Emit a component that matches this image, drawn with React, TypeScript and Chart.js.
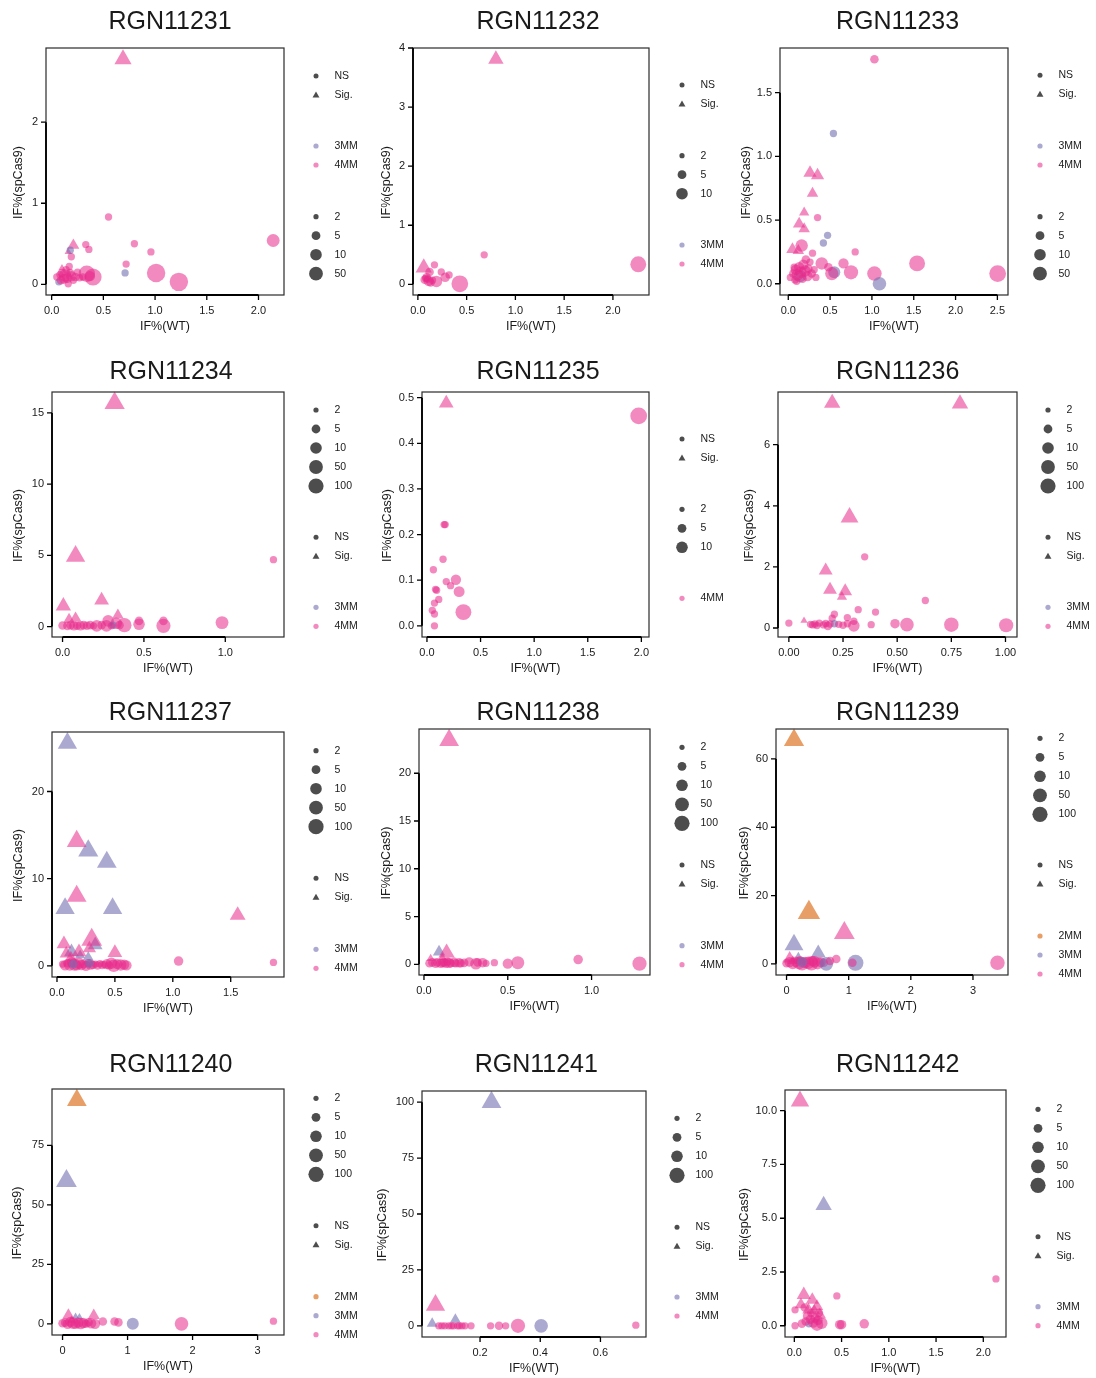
import React, { useEffect, useRef } from "react";
import { Chart, registerables } from "chart.js";

Chart.register(...registerables);

// Each site: [IF%(WT), IF%(spCas9), read count n, mismatches, significant (1) / NS (0)]
type Site = [number, number, number, number, number];

const RGN11231: Site[] = [
  [0.69, 2.777, 30, 4, 1], [0.21, 0.48, 9, 4, 1], [0.1, 0.2, 3, 4, 1], [0.16, 0.4, 3, 4, 1],
  [0.18, 0.42, 3, 3, 0], [0.71, 0.14, 3, 3, 0], [0.07, 0.03, 3, 3, 0],
  [0.55, 0.83, 3, 4, 0], [0.33, 0.49, 3, 4, 0], [0.36, 0.43, 3, 4, 0], [0.19, 0.34, 3, 4, 0],
  [0.8, 0.5, 3, 4, 0], [0.96, 0.4, 3, 4, 0], [0.72, 0.25, 3, 4, 0], [2.142, 0.54, 11, 4, 0],
  [1.01, 0.14, 40, 4, 0], [1.23, 0.03, 40, 4, 0], [0.34, 0.13, 25, 4, 0], [0.4, 0.09, 30, 4, 0],
  [0.37, 0.1, 6, 4, 0], [0.3, 0.09, 3, 4, 0], [0.05, 0.09, 3, 4, 0], [0.08, 0.12, 3, 4, 0],
  [0.1, 0.14, 4, 4, 0], [0.12, 0.07, 6, 4, 0], [0.13, 0.11, 10, 4, 0], [0.15, 0.08, 6, 4, 0],
  [0.16, 0.0065, 3, 4, 0], [0.17, 0.22, 3, 4, 0], [0.18, 0.14, 4, 4, 0], [0.19, 0.1, 6, 4, 0],
  [0.21, 0.05, 3, 4, 0], [0.23, 0.09, 4, 4, 0], [0.25, 0.15, 3, 4, 0], [0.27, 0.08, 3, 4, 0],
  [0.14, 0.18, 3, 4, 0], [0.09, 0.05, 4, 4, 0],
];

const RGN11232: Site[] = [
  [0.8, 3.81, 20, 4, 1], [0.06, 0.28, 25, 4, 1],
  [0.17, 0.33, 3, 4, 0], [0.12, 0.21, 4, 4, 0], [0.24, 0.21, 3, 4, 0], [0.32, 0.16, 3, 4, 0],
  [0.28, 0.12, 5, 4, 0], [0.19, 0.05, 8, 4, 0], [0.07, 0.08, 4, 4, 0], [0.09, 0.12, 4, 4, 0],
  [0.11, 0.06, 6, 4, 0], [0.13, 0.03, 4, 4, 0], [0.08, 0.1, 3, 4, 0], [0.1, 0.09, 3, 4, 0],
  [0.15, 0.07, 3, 4, 0], [0.43, 0.01, 27, 4, 0], [0.68, 0.5, 3, 4, 0], [2.26, 0.34, 22, 4, 0],
];

const RGN11233: Site[] = [
  [1.03, 1.763, 4, 4, 0], [0.54, 1.18, 3, 3, 0],
  [0.26, 0.87, 12, 4, 1], [0.35, 0.85, 12, 4, 1], [0.29, 0.71, 8, 4, 1], [0.19, 0.56, 6, 4, 1],
  [0.13, 0.47, 10, 4, 1], [0.19, 0.43, 8, 4, 1], [0.05, 0.27, 10, 4, 1], [0.12, 0.26, 8, 4, 1],
  [0.35, 0.52, 3, 4, 0], [0.47, 0.38, 3, 3, 0], [0.42, 0.32, 3, 3, 0], [0.16, 0.3, 10, 4, 0],
  [0.8, 0.25, 3, 4, 0], [0.29, 0.24, 3, 4, 0], [1.54, 0.16, 22, 4, 0], [2.503, 0.08, 27, 4, 0],
  [1.03, 0.08, 16, 4, 0], [1.09, 0.0, 13, 3, 0], [0.55, 0.09, 9, 3, 0], [0.75, 0.09, 15, 4, 0],
  [0.52, 0.08, 12, 4, 0], [0.66, 0.16, 6, 4, 0], [0.4, 0.16, 10, 4, 0], [0.48, 0.13, 4, 4, 0],
  [0.14, 0.06, 10, 3, 0], [0.025, 0.05, 3, 4, 0], [0.06, 0.08, 4, 4, 0], [0.08, 0.03, 3, 4, 0],
  [0.09, 0.11, 6, 4, 0], [0.11, 0.07, 8, 4, 0], [0.13, 0.13, 6, 4, 0], [0.15, 0.09, 8, 4, 0],
  [0.17, 0.04, 4, 4, 0], [0.18, 0.15, 6, 4, 0], [0.2, 0.1, 8, 4, 0], [0.21, 0.19, 4, 4, 0],
  [0.23, 0.06, 6, 4, 0], [0.24, 0.12, 4, 4, 0], [0.26, 0.17, 3, 4, 0], [0.28, 0.08, 4, 4, 0],
  [0.31, 0.11, 3, 4, 0], [0.33, 0.05, 3, 4, 0], [0.1, 0.02, 3, 4, 0], [0.07, 0.13, 3, 4, 0],
];

const RGN11234: Site[] = [
  [0.32, 15.69, 62, 4, 1], [0.08, 4.94, 50, 4, 1], [0.24, 1.84, 17, 4, 1], [0.005, 1.45, 20, 4, 1],
  [0.04, 0.5, 8, 4, 1], [0.08, 0.6, 8, 4, 1], [0.34, 0.8, 8, 4, 1],
  [1.296, 4.7, 3, 4, 0], [0.98, 0.28, 11, 4, 0], [0.62, 0.4, 4, 4, 0], [0.62, 0.05, 15, 4, 0],
  [0.47, 0.4, 4, 4, 0], [0.47, 0.16, 8, 4, 0], [0.38, 0.1, 15, 4, 0], [0.33, 0.23, 8, 4, 0],
  [0.28, 0.4, 8, 4, 0], [0.27, 0.05, 8, 4, 0], [0.31, 0.1, 3, 3, 0], [0.21, 0.05, 8, 4, 0],
  [0.0, 0.08, 4, 4, 0], [0.03, 0.05, 4, 4, 0], [0.05, 0.1, 4, 4, 0], [0.07, 0.05, 5, 4, 0],
  [0.09, 0.08, 4, 4, 0], [0.11, 0.05, 5, 4, 0], [0.13, 0.1, 4, 4, 0], [0.15, 0.06, 4, 4, 0],
  [0.17, 0.1, 4, 4, 0], [0.19, 0.05, 3, 4, 0], [0.24, 0.1, 4, 4, 0], [0.3, 0.05, 3, 4, 0],
  [0.35, 0.1, 4, 4, 0],
];

const RGN11235: Site[] = [
  [0.18, 0.488, 17, 4, 1], [1.975, 0.46, 27, 4, 0],
  [0.16, 0.222, 3, 4, 0], [0.17, 0.222, 3, 4, 0], [0.15, 0.146, 3, 4, 0], [0.06, 0.123, 3, 4, 0],
  [0.08, 0.08, 3, 4, 0], [0.09, 0.078, 3, 4, 0], [0.18, 0.097, 3, 4, 0], [0.22, 0.088, 3, 4, 0],
  [0.27, 0.101, 6, 4, 0], [0.3, 0.075, 7, 4, 0], [0.34, 0.03, 22, 4, 0], [0.11, 0.058, 3, 4, 0],
  [0.07, 0.05, 3, 4, 0], [0.05, 0.034, 3, 4, 0], [0.07, 0.026, 3, 4, 0], [0.07, 0.0, 3, 4, 0],
];

const RGN11236: Site[] = [
  [0.2, 7.36, 25, 4, 1], [0.79, 7.34, 25, 4, 1], [0.28, 3.62, 35, 4, 1], [0.17, 1.88, 14, 4, 1],
  [0.19, 1.25, 14, 4, 1], [0.26, 1.2, 14, 4, 1], [0.245, 1.02, 6, 4, 1], [0.07, 0.24, 3, 4, 1],
  [0.35, 2.33, 3, 4, 0], [0.63, 0.9, 3, 4, 0], [0.32, 0.6, 3, 4, 0], [0.4, 0.52, 3, 4, 0],
  [0.21, 0.45, 3, 4, 0], [0.27, 0.34, 3, 4, 0], [0.2, 0.32, 3, 4, 0], [0.3, 0.22, 3, 4, 0],
  [0.545, 0.11, 13, 4, 0], [0.75, 0.11, 16, 4, 0], [1.003, 0.09, 15, 4, 0], [0.3, 0.07, 8, 4, 0],
  [0.49, 0.14, 5, 4, 0], [0.38, 0.11, 3, 4, 0], [0.0, 0.16, 3, 4, 0], [0.21, 0.14, 3, 3, 0],
  [0.1, 0.12, 3, 4, 0], [0.11, 0.1, 3, 4, 0], [0.13, 0.08, 3, 4, 0], [0.14, 0.16, 3, 4, 0],
  [0.16, 0.1, 3, 4, 0], [0.18, 0.07, 4, 4, 0], [0.19, 0.13, 3, 4, 0], [0.23, 0.12, 3, 4, 0],
  [0.25, 0.09, 3, 4, 0], [0.27, 0.14, 3, 4, 0], [0.17, 0.15, 3, 4, 0], [0.12, 0.13, 3, 4, 0],
];

const RGN11237: Site[] = [
  [0.048, 0.2, 3, 4, 0], [0.07, 0.05, 6, 4, 0], [0.09, 0.3, 4, 4, 0], [0.11, 0.1, 8, 4, 0],
  [0.13, 0.4, 6, 4, 0], [0.15, 0.15, 10, 4, 0], [0.17, 0.05, 6, 4, 0], [0.19, 0.3, 8, 4, 0],
  [0.21, 0.1, 6, 4, 0], [0.23, 0.2, 4, 4, 0], [0.25, 0.0, 6, 4, 0], [0.27, 0.3, 4, 4, 0],
  [0.29, 0.15, 6, 4, 0], [0.31, 0.1, 4, 4, 0], [0.33, 0.2, 3, 4, 0], [0.35, 0.05, 4, 4, 0],
  [0.37, 0.25, 3, 4, 0], [0.39, 0.1, 4, 4, 0], [0.41, 0.15, 3, 4, 0], [0.43, 0.2, 6, 4, 0],
  [0.45, 0.05, 4, 4, 0], [0.47, 0.3, 8, 4, 0], [0.49, 0.0, 10, 4, 0], [0.52, 0.2, 6, 4, 0],
  [0.55, 0.1, 8, 4, 0], [0.58, 0.15, 6, 4, 0], [0.6, 0.05, 6, 4, 0],
  [0.28, 0.3, 4, 3, 0], [0.14, 0.2, 4, 3, 0], [1.05, 0.55, 5, 4, 0], [1.869, 0.4, 3, 4, 0],
  [0.09, 25.55, 50, 3, 1], [0.27, 13.2, 60, 3, 1], [0.43, 11.9, 55, 3, 1], [0.07, 6.6, 50, 3, 1],
  [0.48, 6.6, 50, 3, 1], [0.33, 2.4, 17, 3, 1], [0.125, 1.6, 17, 3, 1], [0.27, 1.0, 6, 3, 1],
  [0.2, 1.2, 6, 3, 1],
  [0.17, 14.3, 55, 4, 1], [0.17, 8.0, 55, 4, 1], [1.56, 5.8, 22, 4, 1], [0.3, 3.0, 70, 4, 1],
  [0.06, 2.5, 17, 4, 1], [0.5, 1.5, 17, 4, 1], [0.08, 1.4, 12, 4, 1], [0.19, 1.6, 17, 4, 1],
  [0.12, 0.9, 10, 4, 1], [0.28, 2.0, 12, 4, 1],
];

const RGN11238: Site[] = [
  [0.15, 23.46, 55, 4, 1], [0.09, 1.3, 10, 3, 1], [0.135, 1.2, 25, 4, 1], [0.04, 0.6, 4, 4, 1],
  [0.11, 0.7, 4, 4, 1],
  [1.286, 0.07, 15, 4, 0], [0.92, 0.5, 5, 4, 0], [0.56, 0.17, 11, 4, 0], [0.5, 0.07, 6, 4, 0],
  [0.42, 0.17, 3, 4, 0], [0.35, 0.17, 5, 4, 0], [0.31, 0.05, 8, 4, 0], [0.27, 0.25, 5, 4, 0],
  [0.32, 0.2, 4, 4, 0], [0.37, 0.1, 3, 4, 0],
  [0.033, 0.1, 4, 4, 0], [0.05, 0.2, 4, 4, 0], [0.07, 0.1, 5, 4, 0], [0.08, 0.2, 4, 4, 0],
  [0.1, 0.1, 5, 4, 0], [0.12, 0.2, 4, 4, 0], [0.13, 0.1, 5, 4, 0], [0.15, 0.15, 6, 4, 0],
  [0.16, 0.1, 4, 4, 0], [0.18, 0.2, 5, 4, 0], [0.19, 0.1, 4, 4, 0], [0.21, 0.15, 5, 4, 0],
  [0.22, 0.1, 4, 4, 0], [0.24, 0.15, 4, 4, 0], [0.14, 0.3, 4, 4, 0], [0.11, 0.15, 4, 4, 0],
];

const RGN11239: Site[] = [
  [0.0, 0.2, 4, 4, 0], [0.05, 0.5, 6, 4, 0], [0.1, 0.1, 8, 4, 0], [0.15, 0.6, 6, 4, 0],
  [0.2, 0.2, 10, 4, 0], [0.25, 0.0, 12, 4, 0], [0.3, 0.4, 8, 4, 0], [0.35, 0.3, 10, 4, 0],
  [0.4, 0.1, 15, 4, 0], [0.45, 0.6, 8, 4, 0], [0.5, 0.2, 10, 4, 0], [0.55, 0.5, 6, 4, 0],
  [0.6, 0.3, 4, 4, 0], [0.22, 1.0, 4, 4, 0], [0.42, 0.8, 6, 4, 0],
  [1.11, 0.3, 22, 3, 0], [0.64, 0.0, 13, 3, 0], [0.25, 0.5, 6, 3, 0],
  [3.394, 0.3, 16, 4, 0], [0.8, 1.4, 4, 4, 0], [1.06, 0.3, 4, 4, 0], [0.7, 0.8, 4, 4, 0],
  [0.12, 65.5, 62, 2, 1], [0.36, 15.0, 100, 2, 1],
  [0.93, 9.0, 70, 4, 1], [0.05, 1.5, 12, 4, 1], [0.1, 0.8, 6, 4, 1],
  [0.12, 5.6, 45, 3, 1], [0.51, 3.2, 17, 3, 1], [0.19, 1.8, 6, 3, 1],
];

const RGN11240: Site[] = [
  [0.0, 0.2, 4, 4, 0], [0.04, 0.5, 4, 4, 0], [0.08, 0.0, 6, 4, 0], [0.12, 0.8, 6, 4, 0],
  [0.16, 0.3, 8, 4, 0], [0.2, 0.0, 6, 4, 0], [0.24, 0.5, 6, 4, 0], [0.28, 0.1, 8, 4, 0],
  [0.32, 0.4, 6, 4, 0], [0.36, 0.0, 4, 4, 0], [0.4, 0.6, 4, 4, 0], [0.44, 0.2, 6, 4, 0],
  [0.5, 0.0, 6, 4, 0], [0.62, 1.0, 4, 4, 0], [0.8, 1.0, 4, 4, 0], [0.86, 0.6, 4, 4, 0],
  [1.08, 0.0, 9, 3, 0], [1.83, 0.0, 13, 4, 0], [3.244, 1.1, 3, 4, 0],
  [0.22, 94.0, 55, 2, 1], [0.06, 60.0, 70, 3, 1],
  [0.09, 3.5, 10, 4, 1], [0.48, 3.5, 9, 4, 1], [0.2, 3.0, 3, 3, 1], [0.26, 2.8, 3, 3, 1],
  [0.14, 1.5, 4, 4, 1],
];

const RGN11241: Site[] = [
  [0.063, 0, 3, 4, 0], [0.073, 0, 3, 4, 0], [0.083, 0, 3, 4, 0], [0.096, 0, 3, 4, 0],
  [0.105, 0, 3, 4, 0], [0.112, 0, 3, 4, 0], [0.125, 0, 3, 4, 0], [0.131, 0, 3, 4, 0],
  [0.14, 0, 3, 4, 0], [0.15, 0, 3, 4, 0], [0.17, 0, 3, 4, 0], [0.235, 0, 3, 4, 0],
  [0.263, 0, 4, 4, 0], [0.285, 0, 3, 4, 0], [0.326, 0, 15, 4, 0], [0.403, 0, 13, 3, 0],
  [0.7175, 0.3, 3, 4, 0],
  [0.238, 100.0, 55, 3, 1], [0.052, 9.2, 50, 4, 1], [0.041, 1.0, 7, 3, 1], [0.118, 2.8, 7, 3, 1],
];

const RGN11242: Site[] = [
  [0.0075, 0.74, 3, 4, 0], [0.0075, 0.0, 3, 4, 0], [0.155, 0.09, 3, 3, 0],
  [0.08, 0.1, 4, 4, 0], [0.12, 0.2, 4, 4, 0], [0.14, 0.45, 5, 4, 0], [0.17, 0.3, 5, 4, 0],
  [0.2, 0.15, 6, 4, 0], [0.22, 0.35, 5, 4, 0], [0.25, 0.25, 5, 4, 0], [0.18, 0.6, 4, 4, 0],
  [0.11, 0.85, 4, 4, 0], [0.26, 0.6, 4, 4, 0],
  [0.74, 0.09, 5, 4, 0], [0.48, 0.05, 5, 4, 0], [0.5, 0.05, 5, 4, 0], [0.24, 0.05, 10, 4, 0],
  [0.29, 0.12, 8, 4, 0], [2.134, 2.18, 3, 4, 0], [0.45, 1.39, 3, 4, 0],
  [0.06, 10.44, 40, 4, 1], [0.31, 5.6, 25, 3, 1],
  [0.1, 1.44, 15, 4, 1], [0.19, 1.2, 12, 4, 1], [0.07, 0.98, 10, 4, 1], [0.15, 0.74, 10, 4, 1],
  [0.24, 0.9, 10, 4, 1], [0.27, 0.51, 10, 4, 1], [0.21, 0.7, 8, 4, 1],
];

const panelNames = [
  "RGN11231", "RGN11232", "RGN11233", "RGN11234", "RGN11235", "RGN11236",
  "RGN11237", "RGN11238", "RGN11239", "RGN11240", "RGN11241", "RGN11242",
];
const panelSites = [
  RGN11231, RGN11232, RGN11233, RGN11234, RGN11235, RGN11236,
  RGN11237, RGN11238, RGN11239, RGN11240, RGN11241, RGN11242,
];

const xTickValues = [
  [0, 0.5, 1, 1.5, 2], [0, 0.5, 1, 1.5, 2], [0, 0.5, 1, 1.5, 2, 2.5],
  [0, 0.5, 1], [0, 0.5, 1, 1.5, 2], [0, 0.25, 0.5, 0.75, 1],
  [0, 0.5, 1, 1.5], [0, 0.5, 1], [0, 1, 2, 3],
  [0, 1, 2, 3], [0.2, 0.4, 0.6], [0, 0.5, 1, 1.5, 2],
];
const yTickValues = [
  [0, 1, 2], [0, 1, 2, 3, 4], [0, 0.5, 1, 1.5],
  [0, 5, 10, 15], [0, 0.1, 0.2, 0.3, 0.4, 0.5], [0, 2, 4, 6],
  [0, 10, 20], [0, 5, 10, 15, 20], [0, 20, 40, 60],
  [0, 25, 50, 75], [0, 25, 50, 75, 100], [0, 2.5, 5, 7.5, 10],
];
const xTickDigits = [1, 1, 1, 1, 1, 2, 1, 1, 0, 0, 1, 1];
const yTickDigits = [0, 0, 1, 0, 1, 0, 0, 0, 0, 0, 0, 1];

const sizeBreaks = [
  [2, 5, 10, 50], [2, 5, 10], [2, 5, 10, 50],
  [2, 5, 10, 50, 100], [2, 5, 10], [2, 5, 10, 50, 100],
  [2, 5, 10, 50, 100], [2, 5, 10, 50, 100], [2, 5, 10, 50, 100],
  [2, 5, 10, 50, 100], [2, 5, 10, 100], [2, 5, 10, 50, 100],
];
const mmGroups = [
  [3, 4], [3, 4], [3, 4], [3, 4], [4], [3, 4],
  [3, 4], [3, 4], [2, 3, 4], [2, 3, 4], [3, 4], [3, 4],
];
const sigLabels = ["NS", "Sig."];
const xTitle = "IF%(WT)";
const yTitle = "IF%(spCas9)";

// ---------- layout & style ----------
const PAGE_W = 1096;
const PAGE_H = 1378;
const FONT = '"Liberation Sans", Arial, Helvetica, sans-serif';
const INK = "#1a1a1a";
const KEY_GRAY = "#4d4d4d";
const MM_FILL: Record<number, string> = {
  2: "rgba(217, 95, 2, 0.6)",
  3: "rgba(117, 112, 179, 0.6)",
  4: "rgba(231, 41, 138, 0.55)",
};
const KEY_R: Record<number, number> = { 2: 2.6, 5: 4.4, 10: 5.8, 50: 6.9, 100: 7.6 };
const Y_AXIS_W = 40;
const X_AXIS_H = 30;

// plot frame [left, top, right, bottom]
const panelBoxes = [
  [46, 48, 284, 295], [413, 48, 649, 295], [780, 48, 1008, 295],
  [52, 392, 284, 637], [422, 392, 649, 637], [778, 392, 1017, 637],
  [52, 732, 284, 977], [419, 729, 650, 975], [776, 729, 1008, 975],
  [52, 1089, 284, 1335], [422, 1091, 646, 1337], [785, 1090, 1006, 1337],
];
const titleX = [170, 538, 897.5, 171, 538, 897.7, 170.3, 538, 897.7, 170.8, 536.3, 897.7];
const titleBase = [29.3, 29.3, 29.3, 379.3, 379.3, 379.3, 719.5, 719.5, 719.5, 1071.7, 1071.7, 1071.7];
const yTitleX = [18.5, 387, 746.7, 19, 387.5, 750, 19, 386.7, 745, 18, 383, 745];
const legendX = [316, 682, 1040, 316, 682, 1048, 316, 682, 1040, 316, 677, 1038];
type Group = "shape" | "color" | "size";
const legendGroups: [Group, number][][] = [
  [["shape", 75.9], ["color", 146], ["size", 216.7]],
  [["shape", 85], ["size", 155.7], ["color", 245]],
  [["shape", 75.3], ["color", 146], ["size", 216.7]],
  [["size", 410], ["shape", 537.3], ["color", 607.3]],
  [["shape", 439], ["size", 509.3], ["color", 598.3]],
  [["size", 410], ["shape", 537.3], ["color", 607.3]],
  [["size", 750.7], ["shape", 878.3], ["color", 949.3]],
  [["size", 747.3], ["shape", 865], ["color", 945.7]],
  [["size", 738.3], ["shape", 865], ["color", 936]],
  [["size", 1098.3], ["shape", 1225.7], ["color", 1296.7]],
  [["size", 1118.3], ["shape", 1227.3], ["color", 1297]],
  [["size", 1109.3], ["shape", 1236.7], ["color", 1306.7]],
];
const LEGEND_STEP = 19;

const pointR = (n: number) => 1.3 + 2.15 * Math.log(n);

function triangle(ctx: CanvasRenderingContext2D, x: number, y: number, r: number) {
  ctx.beginPath();
  ctx.moveTo(x, y - r);
  ctx.lineTo(x + 0.866 * r, y + 0.5 * r);
  ctx.lineTo(x - 0.866 * r, y + 0.5 * r);
  ctx.closePath();
  ctx.fill();
}
function dot(ctx: CanvasRenderingContext2D, x: number, y: number, r: number) {
  ctx.beginPath();
  ctx.arc(x, y, r, 0, Math.PI * 2);
  ctx.fill();
}

const decor = {
  id: "decor",
  afterDatasetsDraw(chart: any) {
    const i: number = chart.options.plugins.decor.index;
    const { ctx, chartArea: a } = chart;
    const xs = chart.scales.x;
    const ys = chart.scales.y;
    ctx.save();

    // frame
    ctx.strokeStyle = "#2b2b2b";
    ctx.lineWidth = 1.2;
    ctx.strokeRect(a.left, a.top, a.right - a.left, a.bottom - a.top);

    // axis lines spanning the tick range, plus outward tick marks
    const xt = xTickValues[i];
    const yt = yTickValues[i];
    ctx.strokeStyle = "#000";
    ctx.lineWidth = 1.8;
    ctx.beginPath();
    ctx.moveTo(a.left, ys.getPixelForValue(yt[0]));
    ctx.lineTo(a.left, ys.getPixelForValue(yt[yt.length - 1]));
    ctx.moveTo(xs.getPixelForValue(xt[0]), a.bottom);
    ctx.lineTo(xs.getPixelForValue(xt[xt.length - 1]), a.bottom);
    ctx.stroke();
    ctx.lineWidth = 1.3;
    ctx.beginPath();
    for (const v of yt) {
      const py = ys.getPixelForValue(v);
      ctx.moveTo(a.left - 5, py);
      ctx.lineTo(a.left, py);
    }
    for (const v of xt) {
      const px = xs.getPixelForValue(v);
      ctx.moveTo(px, a.bottom);
      ctx.lineTo(px, a.bottom + 5);
    }
    ctx.stroke();

    // titles
    ctx.fillStyle = INK;
    ctx.textAlign = "center";
    ctx.textBaseline = "alphabetic";
    ctx.font = `25px ${FONT}`;
    ctx.fillText(panelNames[i], titleX[i], titleBase[i]);
    ctx.font = `12.5px ${FONT}`;
    ctx.fillText(xTitle, (a.left + a.right) / 2, a.bottom + 35);
    ctx.save();
    ctx.translate(yTitleX[i], (a.top + a.bottom) / 2 + 11);
    ctx.rotate(-Math.PI / 2);
    ctx.textBaseline = "middle";
    ctx.fillText(yTitle, 0, 0);
    ctx.restore();

    // legends
    const mx = legendX[i];
    const tx = mx + 18.5;
    ctx.font = `10.5px ${FONT}`;
    ctx.textAlign = "left";
    ctx.textBaseline = "middle";
    for (const [g, y0] of legendGroups[i]) {
      if (g === "shape") {
        sigLabels.forEach((lab, k) => {
          const y = y0 + k * LEGEND_STEP;
          ctx.fillStyle = KEY_GRAY;
          if (k === 0) dot(ctx, mx, y, 2.5);
          else triangle(ctx, mx, y + 0.5, 4);
          ctx.fillStyle = INK;
          ctx.fillText(lab, tx, y);
        });
      } else if (g === "color") {
        mmGroups[i].forEach((mm, k) => {
          const y = y0 + k * LEGEND_STEP;
          ctx.fillStyle = MM_FILL[mm];
          dot(ctx, mx, y, 2.6);
          ctx.fillStyle = INK;
          ctx.fillText(`${mm}MM`, tx, y);
        });
      } else {
        sizeBreaks[i].forEach((n, k) => {
          const y = y0 + k * LEGEND_STEP;
          ctx.fillStyle = KEY_GRAY;
          dot(ctx, mx, y, KEY_R[n]);
          ctx.fillStyle = INK;
          ctx.fillText(String(n), tx, y);
        });
      }
    }
    ctx.restore();
  },
};

function expandedRange(vals: number[]) {
  const lo = Math.min(...vals);
  const hi = Math.max(...vals);
  const pad = (hi - lo) * 0.05;
  return [lo - pad, hi + pad];
}

function buildConfig(i: number): any {
  const sites = panelSites[i].map(([x, y, n, mm, sig]) => ({ x, y, n, mm, sig }));
  const [xmin, xmax] = expandedRange(sites.map((s) => s.x));
  const [ymin, ymax] = expandedRange(sites.map((s) => s.y));
  const [l, t, r, b] = panelBoxes[i];
  const tickFont = { family: FONT, size: 11 };
  const noGrid = { display: false, drawTicks: false };
  const fill = (c: any) => MM_FILL[c.raw.mm];
  return {
    type: "scatter",
    data: {
      datasets: [
        {
          label: sigLabels[0],
          data: sites.filter((s) => !s.sig),
          pointStyle: "circle",
          pointRadius: (c: any) => pointR(c.raw.n),
          pointBackgroundColor: fill,
          pointBorderWidth: 0,
          pointBorderColor: "rgba(0,0,0,0)",
        },
        {
          label: sigLabels[1],
          data: sites.filter((s) => s.sig),
          pointStyle: "triangle",
          pointRadius: (c: any) => 1.15 * pointR(c.raw.n),
          pointBackgroundColor: fill,
          pointBorderWidth: 0,
          pointBorderColor: "rgba(0,0,0,0)",
        },
      ],
    },
    options: {
      animation: false,
      responsive: false,
      events: [],
      clip: false,
      layout: {
        padding: { left: l - Y_AXIS_W, top: t, right: PAGE_W - r, bottom: PAGE_H - b - X_AXIS_H },
      },
      plugins: {
        legend: { display: false },
        tooltip: { enabled: false },
        title: { display: false },
        decor: { index: i },
      },
      scales: {
        x: {
          type: "linear",
          position: "bottom",
          min: xmin,
          max: xmax,
          afterBuildTicks: (s: any) => {
            s.ticks = xTickValues[i].map((v) => ({ value: v }));
          },
          afterFit: (s: any) => {
            s.height = X_AXIS_H;
          },
          grid: noGrid,
          border: { display: false },
          ticks: {
            font: tickFont,
            color: INK,
            padding: 9,
            maxRotation: 0,
            autoSkip: false,
            callback: (v: any) => Number(v).toFixed(xTickDigits[i]),
          },
        },
        y: {
          type: "linear",
          position: "left",
          min: ymin,
          max: ymax,
          afterBuildTicks: (s: any) => {
            s.ticks = yTickValues[i].map((v) => ({ value: v }));
          },
          afterFit: (s: any) => {
            s.width = Y_AXIS_W;
          },
          grid: noGrid,
          border: { display: false },
          ticks: {
            font: tickFont,
            color: INK,
            padding: 8,
            autoSkip: false,
            callback: (v: any) => Number(v).toFixed(yTickDigits[i]),
          },
        },
      },
    },
    plugins: [decor],
  };
}

function Panel({ index }: { index: number }) {
  const ref = useRef<HTMLCanvasElement>(null);
  useEffect(() => {
    const chart = new Chart(ref.current as HTMLCanvasElement, buildConfig(index));
    return () => chart.destroy();
  }, [index]);
  return (
    <canvas
      ref={ref}
      width={PAGE_W}
      height={PAGE_H}
      style={{ position: "absolute", left: 0, top: 0, width: PAGE_W, height: PAGE_H }}
    />
  );
}

export default function App() {
  return (
    <div
      style={{
        position: "absolute",
        left: 0,
        top: 0,
        width: PAGE_W,
        height: PAGE_H,
        background: "#fff",
        overflow: "hidden",
      }}
    >
      {panelNames.map((_, i) => (
        <Panel key={i} index={i} />
      ))}
    </div>
  );
}
